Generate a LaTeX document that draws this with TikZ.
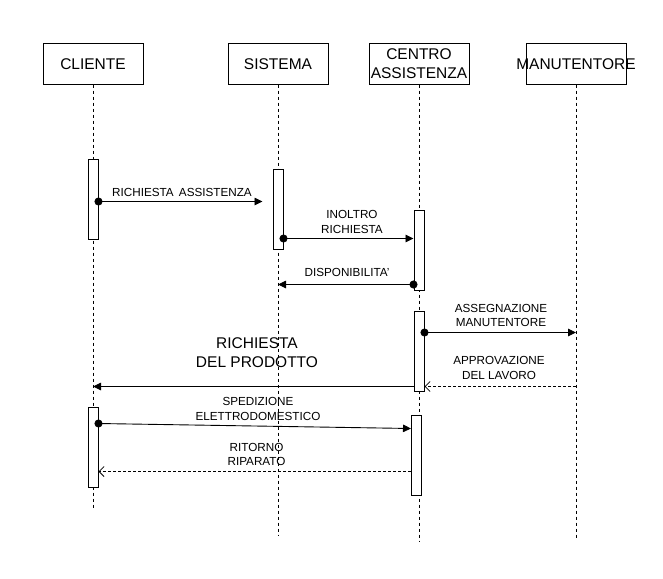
\documentclass[tikz,border=0pt]{standalone}
\usepackage{fontspec}
\setmainfont{Liberation Sans}
\usetikzlibrary{arrows.meta}

\tikzset{
  actor/.style={draw, line width=1pt, minimum width=100pt, minimum height=40pt, inner sep=0pt},
  hdr/.style={font=\fontsize{15.5}{19}\selectfont, align=center, inner sep=0pt},
  bar/.style={draw, line width=1pt, fill=white, minimum width=10pt, minimum height=80pt, inner sep=0pt},
  lifeline/.style={line width=0.8pt, dash pattern=on 3pt off 3pt},
  call/.style={line width=0.9pt, shorten <=-4pt, {Circle[length=8pt]}-{Triangle[length=8pt,width=7.5pt]}},
  msg/.style={line width=0.9pt, -{Triangle[length=8pt,width=7.5pt]}},
  reply/.style={line width=0.8pt, dash pattern=on 3pt off 2pt, -{Straight Barb[length=5pt,width=10pt]}},
  lbl/.style={font=\fontsize{11.7}{14.5}\selectfont, align=center, inner sep=0pt}
}

\begin{document}
\begin{tikzpicture}[x=1pt, y=-1pt]
  \useasboundingbox (0,0) rectangle (663,578);

  % partecipanti
  \node[actor, label={[hdr]center:CLIENTE}] (cliente) at (93,64) {};
  \node[actor, label={[hdr]center:SISTEMA}] (sistema) at (278,64) {};
  \node[actor, label={[hdr]center:CENTRO\\ASSISTENZA}] (centro) at (419,64) {};
  \node[actor, label={[hdr]center:MANUTENTORE}] (manut) at (576,64) {};

  % linee di vita
  \coordinate (clienteE) at (93,508);
  \coordinate (sistemaE) at (278,535);
  \coordinate (centroE) at (419,541);
  \coordinate (manutE) at (576,540);
  \draw[lifeline] (cliente.south) -- (clienteE);
  \draw[lifeline] (sistema.south) -- (sistemaE);
  \draw[lifeline] (centro.south) -- (centroE);
  \draw[lifeline] (manut.south) -- (manutE);

  % attivazioni
  \node[bar] (b1) at (93,199) {};
  \node[bar] (b2) at (278,209) {};
  \node[bar] (b3) at (419,250) {};
  \node[bar] (b4) at (419,351) {};
  \node[bar] (b5) at (93,447) {};
  \node[bar] (b6) at (416.5,455) {};

  % punti dei messaggi
  \coordinate (m1s) at ([yshift=-43pt]b1.north east);
  \coordinate (m1e) at ([xshift=-10pt,yshift=-33pt]b2.north west);
  \coordinate (m2s) at ([yshift=-70pt]b2.north east);
  \coordinate (m2e) at ([yshift=-29pt]b3.north west);
  \coordinate (m3s) at ([yshift=-75pt]b3.north west);
  \coordinate (m4s) at ([yshift=-22pt]b4.north east);
  \coordinate (m5e) at ([yshift=5pt]b4.south east);
  \coordinate (m6s) at ([yshift=5pt]b4.south west);
  \coordinate (m7s) at ([yshift=-17pt]b5.north east);
  \coordinate (m7e) at ([yshift=-14pt]b6.north west);
  \coordinate (m8s) at ([yshift=-57pt]b6.north west);

  % messaggi
  \draw[call] (m1s) -- (m1e);
  \draw[call] (m2s) -- (m2e);
  \draw[call] (m3s) -- (sistema |- m3s);
  \draw[call] (m4s) -- (manut |- m4s);
  \draw[reply] (manut |- m5e) -- (m5e);
  \draw[msg] (m6s) -- (cliente |- m6s);
  \draw[call] (m7s) -- (m7e);
  \draw[reply] (m8s) -- (b5.east |- m8s);

  % etichette
  \node[lbl] (l1) at (182,192) {RICHIESTA\, ASSISTENZA};
  \node[lbl] (l2) at (352,222) {INOLTRO\\RICHIESTA};
  \node[lbl] (l3) at (347,272) {DISPONIBILITA'};
  \node[lbl] (l4) at (501,315.5) {ASSEGNAZIONE\\MANUTENTORE};
  \node[lbl] (l5) at (499,368) {APPROVAZIONE\\DEL LAVORO};
  \node[hdr] (l6) at (257,353) {RICHIESTA\\DEL PRODOTTO};
  \node[lbl] (l7) at (258,409) {SPEDIZIONE\\ELETTRODOMESTICO};
  \node[lbl] (l8) at (256.5,454.5) {RITORNO\\RIPARATO};
\end{tikzpicture}
\end{document}
